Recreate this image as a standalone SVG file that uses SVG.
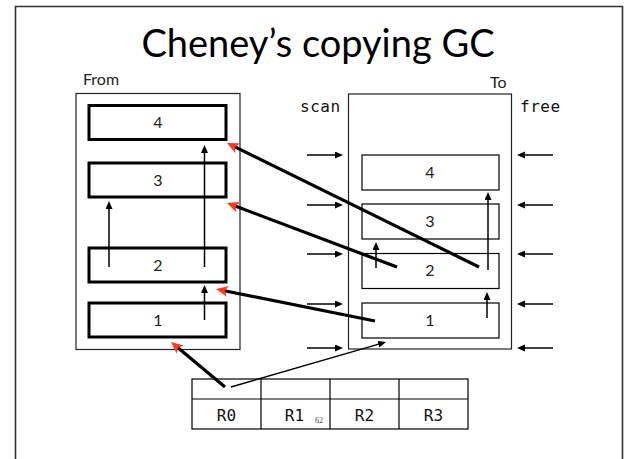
<svg xmlns="http://www.w3.org/2000/svg" width="627" height="459" viewBox="0 0 627 459">
<defs>
<style>
.frame{fill:none;stroke:#333;stroke-width:1.6}
.outer{fill:#fff;stroke:#222;stroke-width:1.2}
.fbox{fill:#fff;stroke:#000;stroke-width:3}
.tbox{fill:#fff;stroke:#000;stroke-width:1.2}
.thin{fill:none;stroke:#000;stroke-width:1.5;marker-end:url(#ah)}
.thick{fill:none;stroke:#000;stroke-width:3.2;marker-end:url(#rh)}
.num{font-family:Lato,"Open Sans",sans-serif;font-size:16px;fill:#222;text-anchor:middle}
.lbl{font-family:Lato,"Open Sans",sans-serif;font-size:16px;fill:#222}
.mono{font-family:"DejaVu Sans Mono",monospace;font-size:16px;fill:#111}
.cell{fill:#fff;stroke:#000;stroke-width:1.2}
</style>
<marker id="ah" markerUnits="userSpaceOnUse" markerWidth="10" markerHeight="8" refX="4" refY="3.5" orient="auto">
<path d="M0,0 L8,3.5 L0,7 z" fill="#000"/>
</marker>
<marker id="rh" markerUnits="userSpaceOnUse" markerWidth="14" markerHeight="12" refX="6" refY="5.5" orient="auto">
<path d="M0,0 L12,5.5 L0,11 L3,5.5 z" fill="#ff3a1c"/>
</marker>
</defs>
<rect width="627" height="459" fill="#fff"/>
<path class="frame" d="M15.5,459 V6.5 H622.5 V459"/>
<text x="318" y="57" font-family="Lato,'Open Sans',sans-serif" font-size="38" fill="#000" text-anchor="middle">Cheney’s copying GC</text>

<g id="from">
<text class="lbl" x="83" y="85">From</text>
<rect class="outer" x="76" y="93.5" width="164" height="256"/>
</g>
<g id="from4"><rect class="fbox" x="89" y="105.5" width="137" height="34"/><text class="num" x="158" y="128">4</text></g>
<g id="from3"><rect class="fbox" x="89" y="163" width="137" height="34"/><text class="num" x="158" y="186">3</text></g>
<g id="from2"><rect class="fbox" x="89" y="248" width="137" height="34"/><text class="num" x="158" y="271">2</text></g>
<g id="from1"><rect class="fbox" x="89" y="303" width="137" height="34"/><text class="num" x="158" y="326">1</text></g>

<g id="to">
<text class="lbl" x="490" y="88">To</text>
<rect class="outer" x="348.5" y="94" width="163" height="255"/>
<text class="mono" x="300" y="112" letter-spacing="0.5">scan</text>
<text class="mono" x="520" y="112" letter-spacing="0.5">free</text>
</g>
<g id="to4"><rect class="tbox" x="362" y="155" width="137" height="35"/><text class="num" x="430" y="178">4</text></g>
<g id="to3"><rect class="tbox" x="362" y="204" width="137" height="35"/><text class="num" x="430" y="227">3</text></g>
<g id="to2"><rect class="tbox" x="362" y="253.5" width="137" height="35"/><text class="num" x="430" y="276">2</text></g>
<g id="to1"><rect class="tbox" x="362" y="303" width="137" height="35"/><text class="num" x="430" y="326">1</text></g>

<g id="registers">
<rect class="cell" x="192" y="379" width="276" height="50"/>
<path class="cell" d="M192,399 H468 M261,379 V429 M330,379 V429 M399,379 V429"/>
<text class="mono" x="226.5" y="421" text-anchor="middle">R0</text>
<text class="mono" x="294.5" y="421" text-anchor="middle">R1</text>
<text class="mono" x="364.5" y="421" text-anchor="middle">R2</text>
<text class="mono" x="433.5" y="421" text-anchor="middle">R3</text>
<text x="319" y="422.5" font-family="'Liberation Serif',serif" font-size="8" fill="#444" text-anchor="middle">62</text>
</g>

<g id="connectors">
<line class="thin" x1="109" y1="267" x2="109" y2="205"/>
<line class="thin" x1="204.5" y1="267" x2="204.5" y2="149"/>
<line class="thin" x1="204.5" y1="320" x2="204.5" y2="289"/>
<line class="thin" x1="376" y1="268" x2="376" y2="246"/>
<line class="thin" x1="488" y1="270" x2="488" y2="196"/>
<line class="thin" x1="487" y1="318" x2="487" y2="296"/>
<line class="thin" x1="307" y1="155" x2="339" y2="155"/>
<line class="thin" x1="307" y1="205" x2="339" y2="205"/>
<line class="thin" x1="307" y1="254" x2="339" y2="254"/>
<line class="thin" x1="307" y1="304" x2="339" y2="304"/>
<line class="thin" x1="307" y1="348" x2="339" y2="348"/>
<line class="thin" x1="553" y1="155" x2="521" y2="155"/>
<line class="thin" x1="553" y1="205" x2="521" y2="205"/>
<line class="thin" x1="553" y1="254" x2="521" y2="254"/>
<line class="thin" x1="553" y1="304" x2="521" y2="304"/>
<line class="thin" x1="553" y1="348" x2="521" y2="348"/>
<line class="thin" x1="231" y1="387" x2="382.2" y2="343.1"/>
<line class="thick" x1="479" y1="267" x2="232.4" y2="145.6"/>
<line class="thick" x1="397" y1="267" x2="232.6" y2="205.1"/>
<line class="thick" x1="375" y1="321" x2="221.9" y2="290.2"/>
<line class="thick" x1="225" y1="387" x2="175.6" y2="345.8"/>
</g>
</svg>
